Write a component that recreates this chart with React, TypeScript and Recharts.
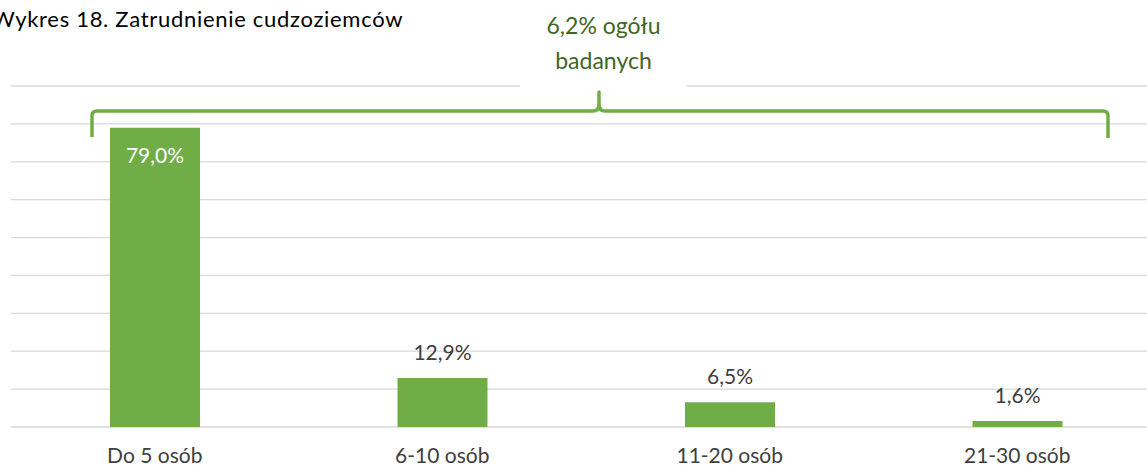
import { Bar, BarChart, CartesianGrid, LabelList, XAxis, YAxis } from "recharts"

const categories = ["Do 5 osób", "6-10 osób", "11-20 osób", "21-30 osób"]
const shares = [79.0, 12.9, 6.5, 1.6]
const yTicks = [0, 10, 20, 30, 40, 50, 60, 70, 80, 90]

const GREEN = "#70AD47"
const DARK_GREEN = "#3F6625"
const TEXT = "#404040"
const FONT = "Lato, 'Open Sans', sans-serif"

const chartData = categories.map((name, i) => ({ name, value: shares[i] }))

const fmt = (v: number) => `${v.toFixed(1).replace(".", ",")}%`

export default function App() {
  return (
    <div
      style={{
        position: "absolute",
        left: 0,
        top: 0,
        width: 1147,
        height: 467,
        overflow: "hidden",
        background: "white",
        fontFamily: FONT,
      }}
    >
      <div
        style={{
          position: "absolute",
          left: -8,
          top: 5,
          fontSize: 22,
          letterSpacing: 0.7,
          color: "#000",
          whiteSpace: "nowrap",
        }}
      >
        Wykres 18. Zatrudnienie cudzoziemców
      </div>

      <div style={{ position: "absolute", left: 0, top: 0 }}>
        <BarChart
          width={1170}
          height={467}
          data={chartData}
          margin={{ top: 86, right: 9, bottom: 0, left: 11 }}
        >
          <CartesianGrid vertical={false} stroke="#D9D9D9" strokeWidth={1.3} />
          <YAxis hide domain={[0, 90]} ticks={yTicks} />
          <XAxis
            dataKey="name"
            axisLine={false}
            tickLine={false}
            height={40}
            tickMargin={15}
            tick={{ fontSize: 21, fill: TEXT, fontFamily: FONT }}
          />
          <Bar dataKey="value" fill={GREEN} barSize={90} isAnimationActive={false}>
            <LabelList
              dataKey="value"
              content={(props: any) => {
                const { x, y, width, value } = props
                const inside = value > 50
                return (
                  <text
                    x={x + width / 2}
                    y={inside ? y + 35 : y - 18}
                    textAnchor="middle"
                    fontSize={21}
                    fontFamily={FONT}
                    fill={inside ? "#FFFFFF" : TEXT}
                  >
                    {fmt(value)}
                  </text>
                )
              }}
            />
          </Bar>
        </BarChart>
      </div>

      {/* pole z opisem nad klamrą */}
      <div
        style={{
          position: "absolute",
          left: 520,
          top: 8,
          width: 167,
          height: 81,
          background: "white",
          color: DARK_GREEN,
          fontSize: 23,
          lineHeight: "35px",
          textAlign: "center",
        }}
      >
        6,2% ogółu
        <br />
        badanych
      </div>

      <svg
        width={1147}
        height={467}
        style={{ position: "absolute", left: 0, top: 0, pointerEvents: "none" }}
      >
        <path
          d="M 92 137 L 92 116 Q 92 111 97 111 L 593 111 Q 599 111 599 104 L 599 92 L 599 104 Q 599 111 605 111 L 1103 111 Q 1108 111 1108 116 L 1108 138"
          fill="none"
          stroke={GREEN}
          strokeWidth={3.5}
          strokeLinejoin="round"
        />
      </svg>
    </div>
  )
}
